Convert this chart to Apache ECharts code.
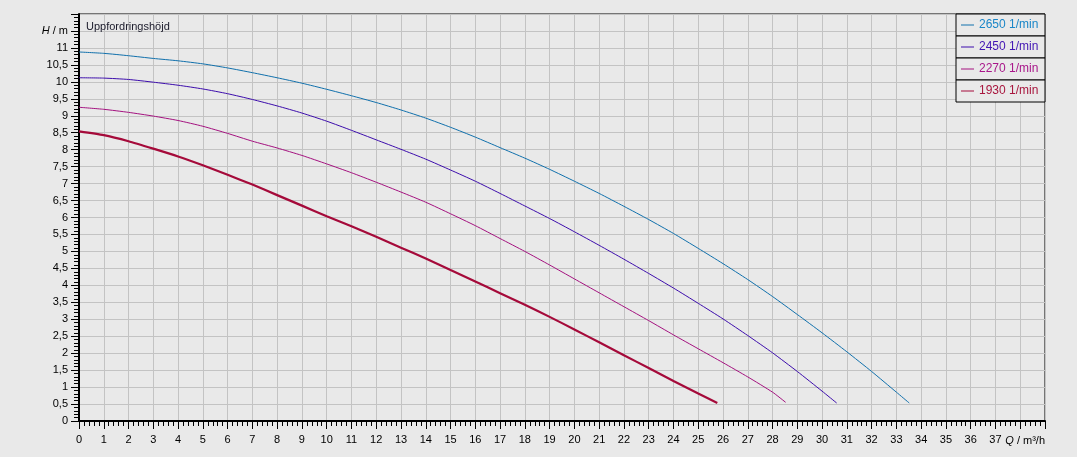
<!DOCTYPE html>
<html>
<head>
<meta charset="utf-8">
<script src="https://cdn.jsdelivr.net/npm/echarts@6/dist/echarts.min.js"></script>
<style>
html,body{margin:0;padding:0;background:#e9e9e9;}
#c{width:1077px;height:457px;}
</style>
</head>
<body>
<div id="c"></div>
<script>
const seriesNames = ['2650 1/min', '2450 1/min', '2270 1/min', '1930 1/min'];
const q2650 = [0,1,2,3,4,5,6,7,8,9,10,11,12,13,14,15,16,17,18,19,20,21,22,23,24,25,26,27,28,29,30,31,32,33,33.52];
const h2650 = [10.88,10.84,10.77,10.69,10.62,10.53,10.41,10.27,10.12,9.96,9.78,9.59,9.39,9.17,8.93,8.66,8.37,8.06,7.75,7.42,7.07,6.71,6.33,5.94,5.53,5.09,4.64,4.17,3.67,3.14,2.60,2.04,1.46,0.85,0.53];
const q2450 = [0,1,2,3,4,5,6,7,8,9,10,11,12,13,14,15,16,17,18,19,20,21,22,23,24,25,26,27,28,29,30,30.59];
const h2450 = [10.12,10.11,10.07,9.99,9.90,9.79,9.65,9.48,9.29,9.08,8.84,8.57,8.29,8.01,7.72,7.40,7.07,6.71,6.34,5.97,5.58,5.18,4.77,4.35,3.92,3.47,3.01,2.52,2.01,1.46,0.88,0.53];
const q2270 = [0,1,2,3,4,5,6,7,8,9,10,11,12,13,14,15,16,17,18,19,20,21,22,23,24,25,26,27,28,28.53];
const h2270 = [9.25,9.19,9.10,8.99,8.86,8.69,8.48,8.25,8.05,7.83,7.58,7.32,7.04,6.75,6.45,6.11,5.76,5.38,5.00,4.60,4.19,3.78,3.37,2.96,2.54,2.13,1.72,1.30,0.85,0.55];
const q1930 = [0,1,2,3,4,5,6,7,8,9,10,11,12,13,14,15,16,17,18,19,20,21,22,23,24,25,25.77];
const h1930 = [8.54,8.43,8.25,8.03,7.80,7.54,7.26,6.97,6.66,6.35,6.04,5.74,5.43,5.11,4.79,4.45,4.11,3.77,3.43,3.07,2.70,2.32,1.94,1.56,1.18,0.81,0.53];
const xMaxLabel = 37;
const yMaxLabel = 11;
const yAxisTitle = '{i|H} / m';
const xAxisTitle = '{i|Q} / m³/h';
const chartTitle = 'Uppfordringshöjd';

const colors = ['#1070ac', '#3c0cac', '#a4117f', '#a50a3a'];
const textColors = ['#1a86c8', '#4216b4', '#a8168a', '#a8163e'];
const widths = [1, 1, 1, 2.2];
const qs = [q2650, q2450, q2270, q1930];
const hs = [h2650, h2450, h2270, h1930];

const FONT = 'Liberation Sans, Arial, sans-serif';
const chart = echarts.init(document.getElementById('c'), null, {renderer: 'canvas'});

const series = seriesNames.map((n, i) => ({
  name: n,
  type: 'line',
  data: qs[i].map((q, k) => [q, hs[i][k]]),
  showSymbol: false,
  symbol: 'none',
  smooth: 0.2,
  lineStyle: {color: colors[i], width: widths[i]},
  itemStyle: {color: colors[i]},
  z: 3 + (3 - i)
}));

const legends = seriesNames.map((n, i) => ({
  data: [n],
  right: 32,
  top: 14 + i * 22,
  orient: 'vertical',
  padding: [4, 5, 4, 5],
  itemWidth: 13,
  itemHeight: 14,
  itemGap: 0,
  icon: 'path://M0,7 L13,7 L13,8 L0,8 Z',
  borderColor: '#000',
  borderWidth: 1,
  borderRadius: 0,
  backgroundColor: '#e9e9e9',
  selectedMode: false,
  itemStyle: {color: colors[i]},
  lineStyle: {width: 1},
  textStyle: {color: textColors[i], fontSize: 12, fontFamily: FONT, width: 61, lineHeight: 14}
}));

const option = {
  animation: false,
  backgroundColor: '#e9e9e9',
  grid: {left: 79, right: 32, top: 14, bottom: 36, show: true, borderColor: '#000', borderWidth: 1, backgroundColor: 'transparent'},
  legend: legends,
  xAxis: {
    type: 'value', min: 0, max: 39, interval: 1,
    axisLine: {show: true, lineStyle: {color: '#000', width: 2}},
    axisTick: {show: true, length: 8, lineStyle: {color: '#000', width: 1}},
    minorTick: {show: true, splitNumber: 5, length: 5, lineStyle: {color: '#000', width: 1}},
    splitLine: {show: true, lineStyle: {color: '#c3c3c3', width: 1}},
    axisLabel: {
      color: '#000', fontSize: 11, fontFamily: FONT, margin: 13,
      showMaxLabel: true,
      formatter: v => (v <= xMaxLabel ? String(v) : '')
    }
  },
  yAxis: {
    type: 'value', min: 0, max: 12, interval: 0.5,
    axisLine: {show: true, lineStyle: {color: '#000', width: 2}},
    axisTick: {show: true, length: 8, lineStyle: {color: '#000', width: 1}},
    minorTick: {show: true, splitNumber: 5, length: 5, lineStyle: {color: '#000', width: 1}},
    splitLine: {show: true, lineStyle: {color: '#c3c3c3', width: 1}},
    axisLabel: {
      color: '#000', fontSize: 11, fontFamily: FONT, margin: 11,
      showMaxLabel: true,
      formatter: v => {
        if (Math.abs(v - (yMaxLabel + 0.5)) < 1e-6) return yAxisTitle;
        if (v > yMaxLabel + 1e-6) return '';
        return String(v).replace('.', ',');
      },
      rich: {i: {fontStyle: 'italic', fontSize: 11, fontFamily: FONT, color: '#000'}}
    }
  },
  graphic: [
    {type: 'text', left: 86, top: 21, z: 10,
     style: {text: chartTitle, fill: '#1a1a2a', font: '11px ' + FONT}},
    {type: 'text', right: 32, top: 435, z: 10,
     style: {text: xAxisTitle, fill: '#000', font: '11px ' + FONT,
             rich: {i: {fontStyle: 'italic', fontSize: 11, fontFamily: FONT, fill: '#000'}}}}
  ],
  series: series
};
chart.setOption(option);
</script>
</body>
</html>
